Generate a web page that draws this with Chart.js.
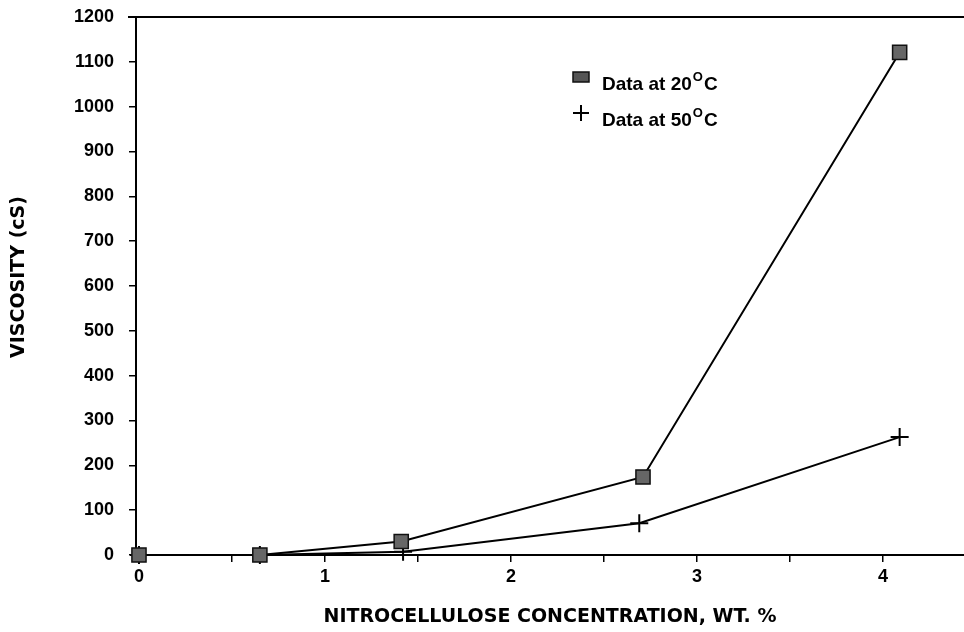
<!DOCTYPE html>
<html>
<head>
<meta charset="utf-8">
<script src="https://cdn.jsdelivr.net/npm/chart.js@4/dist/chart.umd.min.js"></script>
<style>
html,body{margin:0;padding:0;background:#fff;}
#wrap{width:964px;height:632px;position:relative;}
</style>
</head>
<body>
<div id="wrap"><canvas id="c" width="964" height="632"></canvas></div>
<script>
const concentration = [0, 0.65, 1.41, 2.71, 4.09];
const visc20 = [0, 0, 30, 174, 1121];
const concentration50 = [0, 0.65, 1.42, 2.69, 4.09];
const visc50 = [0, 0, 7, 71, 263];
const xTickValues = [0, 0.5, 1, 1.5, 2, 2.5, 3, 3.5, 4];
const yTickValues = [0, 100, 200, 300, 400, 500, 600, 700, 800, 900, 1000, 1100, 1200];
const legendLabels = ['Data at 20', 'Data at 50'];
const xTitle = 'NITROCELLULOSE CONCENTRATION, WT. %';
const yTitle = 'VISCOSITY (cS)';

const FONT = '"Liberation Sans", Arial, sans-serif';
const TFONT = '"DejaVu Sans", sans-serif';

const legendPlugin = {
  id: 'legendInside',
  afterDatasetsDraw(chart) {
    const ctx = chart.ctx;
    ctx.save();
    const rows = [{y: 77, type: 'rect'}, {y: 113, type: 'cross'}];
    rows.forEach((r, i) => {
      const mx = 581;
      if (r.type === 'rect') {
        ctx.fillStyle = '#555';
        ctx.strokeStyle = '#111';
        ctx.lineWidth = 1.5;
        ctx.fillRect(mx - 8, r.y - 5, 16, 10);
        ctx.strokeRect(mx - 8, r.y - 5, 16, 10);
      } else {
        ctx.strokeStyle = '#000';
        ctx.lineWidth = 2;
        ctx.beginPath();
        ctx.moveTo(mx - 8, r.y); ctx.lineTo(mx + 8, r.y);
        ctx.moveTo(mx, r.y - 8); ctx.lineTo(mx, r.y + 8);
        ctx.stroke();
      }
      ctx.fillStyle = '#000';
      ctx.textBaseline = 'alphabetic';
      ctx.textAlign = 'left';
      ctx.font = 'bold 19px ' + FONT;
      const base = r.y + 13;
      ctx.fillText(legendLabels[i], 602, base);
      const w = ctx.measureText(legendLabels[i]).width;
      ctx.font = 'bold 13px ' + FONT;
      ctx.fillText('O', 602 + w + 1, base - 9);
      const w2 = ctx.measureText('O').width;
      ctx.font = 'bold 19px ' + FONT;
      ctx.fillText('C', 602 + w + w2 + 2, base);
    });
    ctx.restore();
  }
};

const framePlugin = {
  id: 'frameAndYTitle',
  afterDraw(chart) {
    const a = chart.chartArea, ctx = chart.ctx;
    ctx.save();
    ctx.strokeStyle = '#000';
    ctx.lineWidth = 2;
    ctx.beginPath();
    ctx.moveTo(a.left - 8, a.top);
    ctx.lineTo(a.right, a.top);
    ctx.stroke();
    // y axis title
    ctx.translate(19, 277);
    ctx.rotate(-Math.PI / 2);
    ctx.fillStyle = '#000';
    ctx.font = 'bold 19px ' + TFONT;
    ctx.textAlign = 'center';
    ctx.textBaseline = 'middle';
    ctx.fillText(yTitle, 0, 0);
    ctx.restore();
  }
};

new Chart(document.getElementById('c'), {
  type: 'scatter',
  data: {
    datasets: [
      {
        label: 'Data at 20°C',
        data: concentration.map((x, i) => ({x, y: visc20[i]})),
        showLine: true,
        borderColor: '#000',
        borderWidth: 2,
        pointStyle: 'rect',
        pointRadius: 10,
        pointBackgroundColor: '#666',
        pointBorderColor: '#111',
        pointBorderWidth: 1.5,
        tension: 0,
        clip: false
      },
      {
        label: 'Data at 50°C',
        data: concentration50.map((x, i) => ({x, y: visc50[i]})),
        showLine: true,
        borderColor: '#000',
        borderWidth: 2,
        pointStyle: 'cross',
        pointRadius: 9,
        pointBorderColor: '#000',
        pointBorderWidth: 2,
        tension: 0,
        clip: false
      }
    ]
  },
  options: {
    responsive: false,
    animation: false,
    layout: {autoPadding: false, padding: {top: 17, right: 0, left: 0, bottom: 0}},
    plugins: {legend: {display: false}, tooltip: {enabled: false}},
    scales: {
      x: {
        type: 'linear',
        min: -0.016,
        max: 4.436,
        afterBuildTicks: (s) => { s.ticks = xTickValues.map(v => ({value: v})); },
        afterFit: (s) => { s.height = 77; s.paddingLeft = 0; s.paddingRight = 0; },
        border: {display: true, color: '#000', width: 2},
        grid: {display: true, drawOnChartArea: false, drawTicks: true, tickLength: 7, color: '#000', lineWidth: 1.5},
        ticks: {
          color: '#000',
          font: {family: FONT, size: 18, weight: 'bold'},
          padding: 4,
          maxRotation: 0,
          autoSkip: false,
          callback: (v) => Number.isInteger(v) ? String(v) : ''
        },
        title: {
          display: true,
          text: xTitle,
          color: '#000',
          font: {family: TFONT, size: 19, weight: 'bold'},
          padding: {top: 9}
        }
      },
      y: {
        type: 'linear',
        min: 0,
        max: 1200,
        afterBuildTicks: (s) => { s.ticks = yTickValues.map(v => ({value: v})); },
        afterFit: (s) => { s.width = 136; s.paddingTop = 0; s.paddingBottom = 0; },
        border: {display: true, color: '#000', width: 2},
        grid: {display: true, drawOnChartArea: false, drawTicks: true, tickLength: 7, color: '#000', lineWidth: 1.5},
        ticks: {
          color: '#000',
          font: {family: FONT, size: 18, weight: 'bold'},
          padding: 15,
          callback: (v) => String(v)
        },
        title: {display: false}
      }
    }
  },
  plugins: [legendPlugin, framePlugin]
});
</script>
</body>
</html>
